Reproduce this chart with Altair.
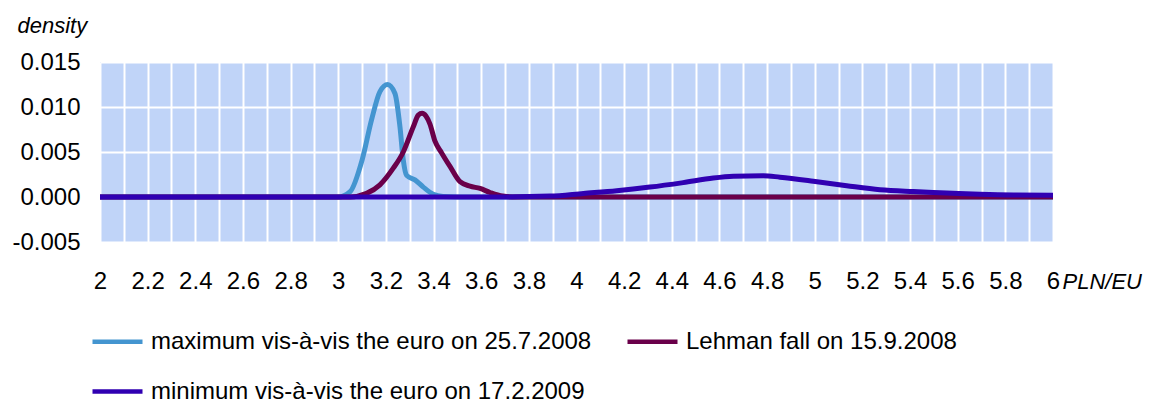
import altair as alt
import pandas as pd

series_names = [
    "maximum vis-à-vis the euro on 25.7.2008",
    "Lehman fall on 15.9.2008",
    "minimum vis-à-vis the euro on 17.2.2009",
]
series_colors = ["#4495D0", "#6A004A", "#3000B2"]

blue_x = [2.0, 3.0, 3.05, 3.1, 3.14, 3.175, 3.207, 3.238, 3.259, 3.273, 3.287, 3.322, 3.357, 3.399, 3.44, 3.5, 6.0]
blue_y = [0, 0, 0.0006, 0.0041, 0.0086, 0.0117, 0.0125, 0.0115, 0.0078, 0.0041, 0.0024, 0.0019, 0.0011, 0.0003, 0.00005, 0, 0]

maroon_x = [2.0, 3.05, 3.119, 3.175, 3.231, 3.273, 3.315, 3.336, 3.352, 3.368, 3.385, 3.406, 3.434, 3.469, 3.511, 3.553, 3.595, 3.637, 3.69, 3.75, 6.0]
maroon_y = [0, 0, 0.0004, 0.00135, 0.0032, 0.005, 0.0078, 0.0091, 0.0093, 0.0090, 0.0081, 0.0062, 0.0049, 0.0034, 0.0017, 0.0012, 0.00095, 0.0005, 0.0001, 0, 0]

indigo_x = [2.0, 3.68, 3.889, 4.029, 4.169, 4.308, 4.448, 4.574, 4.658, 4.784, 4.854, 4.994, 5.134, 5.274, 5.414, 5.554, 5.694, 5.834, 6.0]
indigo_y = [0, 0, 0.0001, 0.0004, 0.0007, 0.0011, 0.0016, 0.0021, 0.0023, 0.00237, 0.0022, 0.00175, 0.00125, 0.0008, 0.0006, 0.00045, 0.0003, 0.00022, 0.0002]

x_ticks = [2.0, 2.1, 2.2, 2.3, 2.4, 2.5, 2.6, 2.7, 2.8, 2.9, 3.0, 3.1, 3.2, 3.3, 3.4, 3.5,
           3.6, 3.7, 3.8, 3.9, 4.0, 4.1, 4.2, 4.3, 4.4, 4.5, 4.6, 4.7, 4.8, 4.9, 5.0,
           5.1, 5.2, 5.3, 5.4, 5.5, 5.6, 5.7, 5.8, 5.9, 6.0]
y_ticks = [-0.005, 0.0, 0.005, 0.010, 0.015]

FONT = "Liberation Sans"

color_scale = alt.Scale(domain=series_names, range=series_colors)

x_enc = alt.X(
    "x:Q",
    scale=alt.Scale(domain=[2, 6], nice=False, zero=False),
    axis=alt.Axis(
        values=x_ticks,
        labelExpr="round(datum.value*10)%2==0 ? format(datum.value, '~g') : ''",
        ticks=False,
        domain=False,
        grid=True,
        gridColor="white",
        gridWidth=2,
        labelFontSize=24,
        labelPadding=27,
        labelColor="black",
        labelFont=FONT,
        labelOverlap=False,
        labelFlush=False,
        title="PLN/EU",
        titleFont=FONT,
        titleFontSize=22,
        titleFontStyle="italic",
        titleFontWeight="normal",
        titleAlign="left",
        titleBaseline="alphabetic",
        titleAnchor="start",
        titleX=962,
        titleY=46,
        titleColor="black",
    ),
)
y_enc = alt.Y(
    "y:Q",
    scale=alt.Scale(domain=[-0.005, 0.015], nice=False, zero=False),
    axis=alt.Axis(
        values=y_ticks,
        labelExpr="replace(format(datum.value, '.3f'), '\u2212', '-')",
        ticks=False,
        domain=False,
        grid=True,
        gridColor="white",
        gridWidth=2,
        labelFontSize=24,
        labelPadding=20,
        labelColor="black",
        labelFont=FONT,
        labelFlush=False,
        title="density",
        titleFont=FONT,
        titleFontSize=22,
        titleFontStyle="italic",
        titleFontWeight="normal",
        titleAngle=0,
        titleAlign="left",
        titleBaseline="alphabetic",
        titleX=-83,
        titleY=-30,
        titleColor="black",
    ),
)

legend = alt.Legend(
    title=None,
    orient="none",
    legendX=-10,
    legendY=252,
    padding=0,
    direction="horizontal",
    columns=2,
    columnPadding=26,
    rowPadding=10,
    symbolType="stroke",
    symbolSize=2500,
    symbolStrokeWidth=4.5,
    labelFontSize=24,
    labelFont=FONT,
    labelColor="black",
    labelOffset=6,
    labelLimit=0,
)

def layer(xs, ys, name):
    df = pd.DataFrame({"x": xs, "y": ys, "series": name})
    return alt.Chart(df).mark_line(strokeWidth=5, interpolate="monotone").encode(
        x=x_enc,
        y=y_enc,
        color=alt.Color("series:N", scale=color_scale, legend=legend),
    )

chart = alt.layer(
    layer(blue_x, blue_y, series_names[0]),
    layer(maroon_x, maroon_y, series_names[1]),
    layer(indigo_x, indigo_y, series_names[2]),
).properties(
    width=953,
    height=180,
    background="white",
    autosize=alt.AutoSizeParams(type="none"),
    padding={"left": 92, "top": 54, "right": 91, "bottom": 161},
).configure_view(
    fill="#C0D4F8",
    stroke=None,
)

chart.save("out.html", embed_options={"renderer": "svg", "actions": False})
